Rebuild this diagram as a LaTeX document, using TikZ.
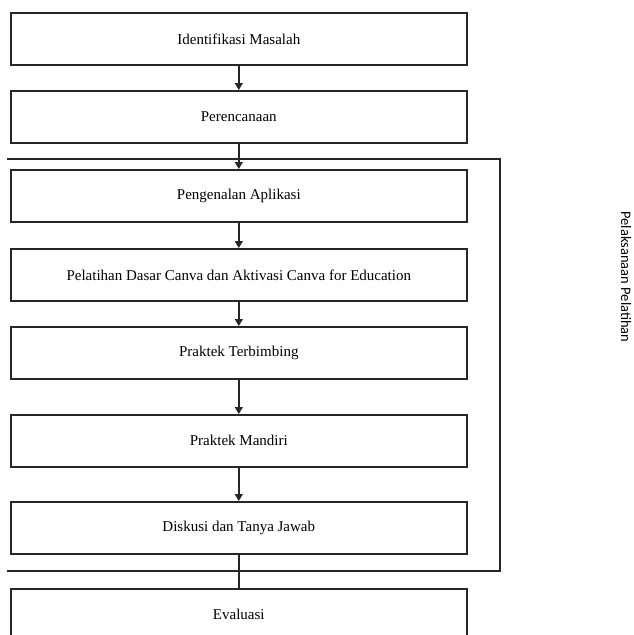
\documentclass[tikz,border=0pt]{standalone}
\usepackage{fontspec}
\setmainfont{Liberation Serif}
\newfontfamily\labelfont{Carlito}
\usetikzlibrary{arrows.meta}
\begin{document}
\begin{tikzpicture}[x=1pt,y=-1pt,
  stepbox/.style={draw=black!85,line width=1.6pt,minimum width=456pt,minimum height=52pt,inner sep=0pt,anchor=north west,font=\fontsize{15}{17}\selectfont},
  conn/.style={draw=black!85,line width=1.4pt},
  arr/.style={conn,-{Triangle[width=8pt,length=7pt]}},
  frame/.style={draw=black!85,line width=1.4pt}]
\useasboundingbox (0,0) rectangle (634,635);
\begin{scope}
\clip (0,0) rectangle (634,635);
\node[stepbox] (b1) at (10,12) {Identifikasi Masalah};
\node[stepbox] (b2) at (10,90) {Perencanaan};
\node[stepbox] (b3) at (10,169) {Pengenalan Aplikasi};
\node[stepbox] (b4) at (10,248) {Pelatihan Dasar Canva dan Aktivasi Canva for Education};
\node[stepbox] (b5) at (10,326) {Praktek Terbimbing};
\node[stepbox] (b6) at (10,414) {Praktek Mandiri};
\node[stepbox] (b7) at (10,501) {Diskusi dan Tanya Jawab};
\node[stepbox] (b8) at (10,588) {Evaluasi};
\coordinate (f1) at (7,159);
\coordinate (f2) at (500,159);
\coordinate (f3) at (500,571);
\coordinate (f4) at (7,571);
\draw[frame] (f1) -- (f2) -- (f3) -- (f4);
\node[font=\labelfont\fontsize{14.5}{16}\selectfont,rotate=-90] (lbl) at (626,277) {Pelaksanaan Pelatihan};
\draw[arr] (b1.south) -- (b2.north);
\draw[arr] (b2.south) -- (b3.north);
\draw[arr] (b3.south) -- (b4.north);
\draw[arr] (b4.south) -- (b5.north);
\draw[arr] (b5.south) -- (b6.north);
\draw[arr] (b6.south) -- (b7.north);
\draw[conn] (b7.south) -- (b8.north);
\end{scope}
\end{tikzpicture}
\end{document}
